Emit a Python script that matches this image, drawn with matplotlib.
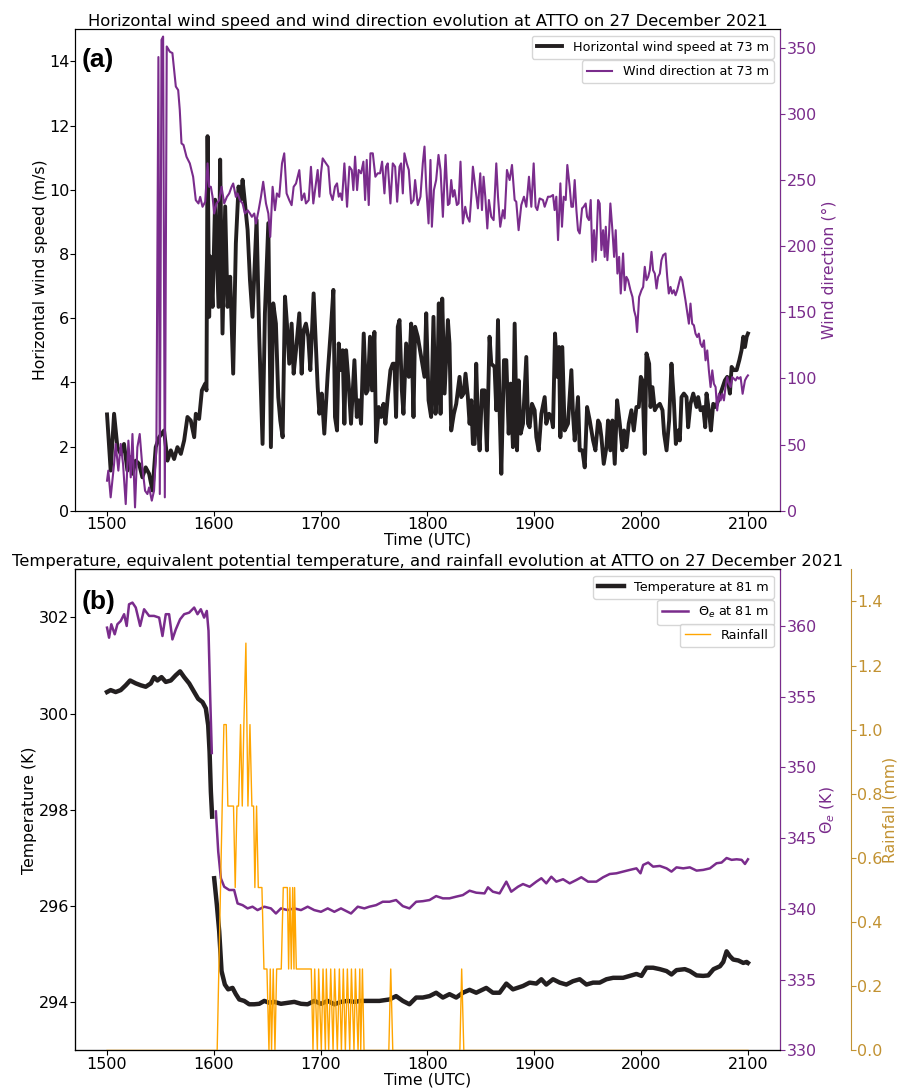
import numpy as np
import matplotlib
matplotlib.use("Agg")
import matplotlib.pyplot as plt

# ---------------- data (time in HHMM-like UTC units) ----------------
ws_time = [
    1500.0, 1503.4, 1506.6, 1509.7, 1512.8, 1515.9, 1519.1, 1522.2, 1523.8, 1526.9,
    1530.0, 1533.1, 1536.2, 1539.4, 1542.5, 1545.6, 1548.8, 1553.4, 1556.6, 1559.7,
    1562.8, 1565.9, 1569.1, 1572.2, 1575.3, 1578.4, 1581.6, 1583.1, 1586.2, 1588.8,
    1591.9, 1593.1, 1594.1, 1595.6, 1596.6, 1598.8, 1601.2, 1604.4, 1605.9, 1608.1,
    1610.6, 1612.8, 1615.3, 1618.1, 1620.6, 1623.1, 1625.3, 1626.9, 1629.1, 1631.6,
    1633.8, 1636.2, 1640.0, 1642.5, 1645.6, 1647.8, 1651.0, 1653.4, 1655.6, 1658.1,
    1660.3, 1662.2, 1664.4, 1666.6, 1668.4, 1670.6, 1672.8, 1674.7, 1676.9, 1680.0,
    1682.2, 1684.1, 1686.2, 1688.4, 1690.3, 1693.4, 1697.2, 1698.8, 1701.0, 1703.4,
    1706.6, 1709.7, 1711.9, 1713.4, 1715.3, 1716.9, 1719.1, 1720.6, 1722.2, 1723.8,
    1726.2, 1728.4, 1731.6, 1733.8, 1735.6, 1737.8, 1740.3, 1742.5, 1744.1, 1746.2,
    1748.1, 1750.3, 1751.9, 1754.4, 1756.6, 1758.8, 1760.6, 1762.8, 1765.3, 1767.5,
    1769.1, 1770.6, 1772.2, 1773.8, 1776.0, 1777.5, 1780.0, 1782.5, 1784.7, 1786.9,
    1788.4, 1790.9, 1794.1, 1797.2, 1798.8, 1801.0, 1803.4, 1805.6, 1807.5, 1809.1,
    1810.6, 1812.2, 1813.8, 1816.0, 1819.1, 1820.6, 1822.2, 1824.7, 1826.9, 1830.0,
    1831.6, 1833.8, 1835.6, 1837.8, 1839.4, 1841.0, 1842.5, 1844.1, 1845.6, 1847.2,
    1848.8, 1851.0, 1853.4, 1855.6, 1858.1, 1859.7, 1862.8, 1864.4, 1866.0, 1867.5,
    1869.1, 1871.6, 1873.8, 1876.0, 1877.8, 1880.0, 1881.6, 1883.8, 1885.3, 1887.2,
    1889.4, 1892.5, 1894.1, 1895.6, 1897.8, 1900.3, 1901.9, 1904.1, 1906.6, 1909.7,
    1911.2, 1913.8, 1915.9, 1917.5, 1919.4, 1921.5, 1923.1, 1924.4, 1926.2, 1928.4,
    1931.5, 1934.7, 1936.2, 1937.8, 1940.9, 1942.5, 1945.0, 1947.2, 1949.4, 1951.9,
    1955.0, 1957.2, 1959.7, 1961.2, 1962.8, 1965.0, 1967.5, 1969.0, 1971.2, 1973.1,
    1975.3, 1977.5, 1980.0, 1982.5, 1984.0, 1986.2, 1988.4, 1990.9, 1993.1, 1995.6,
    1997.8, 1999.7, 2001.2, 2003.4, 2005.0, 2007.5, 2008.8, 2010.6, 2012.8, 2014.4,
    2017.5, 2020.0, 2021.5, 2023.8, 2026.2, 2028.4, 2030.6, 2032.5, 2034.7, 2036.2,
    2037.8, 2040.0, 2042.5, 2044.0, 2046.2, 2048.8, 2051.9, 2053.4, 2055.6, 2058.1,
    2060.0, 2061.2, 2063.4, 2065.3, 2067.5, 2070.0, 2072.2, 2075.3, 2078.4, 2080.6,
    2083.1, 2084.7, 2086.9, 2089.4, 2091.9, 2094.0, 2095.6, 2097.2, 2098.8, 2100.0,
]
ws_value = [
    3.00, 1.25, 3.02, 1.98, 1.77, 2.08, 1.25, 1.67, 1.15, 1.56,
    1.46, 1.04, 1.35, 1.15, 0.63, 1.98, 2.29, 2.50, 1.56, 1.88,
    1.61, 1.98, 1.77, 2.19, 2.92, 2.81, 2.29, 3.02, 2.86, 3.75,
    3.96, 3.75, 11.67, 6.04, 7.92, 6.35, 9.69, 6.35, 10.94, 5.52,
    9.48, 6.35, 7.29, 4.27, 8.33, 10.10, 9.69, 10.31, 9.58, 8.75,
    7.19, 6.04, 9.06, 5.42, 2.08, 6.15, 8.96, 1.98, 6.46, 5.83,
    3.54, 2.81, 2.29, 6.67, 5.83, 4.58, 5.83, 4.27, 5.00, 6.15,
    4.27, 5.63, 5.83, 5.42, 4.38, 6.77, 3.85, 3.02, 3.65, 2.40,
    4.27, 5.73, 6.88, 2.92, 2.50, 5.21, 4.38, 5.00, 2.71, 5.00,
    3.96, 2.71, 4.69, 2.92, 3.44, 2.71, 5.52, 3.65, 3.75, 5.42,
    3.75, 5.57, 2.14, 3.23, 2.92, 3.33, 2.71, 3.54, 4.38, 4.58,
    4.58, 2.92, 5.73, 5.94, 3.75, 3.02, 5.21, 4.17, 5.83, 2.92,
    5.73, 5.42, 4.79, 4.17, 6.15, 3.44, 2.92, 6.04, 3.02, 3.75,
    6.46, 3.02, 6.61, 3.65, 5.94, 5.21, 2.50, 3.02, 3.33, 4.17,
    3.54, 3.65, 4.27, 3.54, 2.71, 3.44, 2.08, 2.08, 4.58, 2.71,
    1.88, 3.75, 3.75, 1.88, 5.42, 4.58, 4.48, 3.13, 5.94, 3.13,
    1.15, 4.69, 4.69, 2.40, 3.96, 1.98, 5.83, 1.88, 4.06, 2.40,
    2.71, 4.79, 2.71, 2.60, 3.33, 3.13, 2.29, 1.88, 3.02, 3.54,
    2.71, 3.02, 2.92, 2.60, 5.52, 4.17, 5.10, 2.29, 5.10, 2.50,
    2.71, 4.38, 3.02, 2.19, 3.54, 1.88, 1.88, 1.35, 3.23, 2.81,
    2.19, 1.88, 2.81, 2.71, 2.29, 1.46, 1.98, 2.81, 1.88, 2.81,
    1.46, 3.44, 2.71, 1.88, 2.50, 1.98, 2.71, 3.13, 2.50, 3.23,
    3.23, 4.17, 4.06, 1.77, 4.90, 4.58, 3.23, 3.85, 3.13, 3.23,
    3.33, 3.13, 2.40, 1.88, 2.81, 4.58, 3.44, 2.08, 2.50, 2.19,
    3.54, 3.65, 3.54, 2.60, 3.33, 3.65, 3.23, 3.54, 3.13, 3.23,
    2.60, 3.65, 3.13, 2.50, 3.33, 3.23, 3.44, 3.75, 4.06, 4.17,
    3.65, 4.48, 4.38, 4.38, 4.69, 5.00, 5.42, 5.10, 5.42, 5.52,
]

wd_time = [
    1500.0, 1501.2, 1503.4, 1506.6, 1508.1, 1510.6, 1512.8, 1515.0, 1517.5, 1520.0,
    1522.2, 1523.8, 1526.2, 1528.4, 1530.6, 1533.1, 1535.6, 1537.8, 1539.4, 1541.9,
    1544.0, 1546.2, 1548.1, 1549.4, 1551.0, 1552.5, 1554.1, 1555.9, 1558.8, 1561.2,
    1564.4, 1566.6, 1568.1, 1569.7, 1571.6, 1574.4, 1577.5, 1580.6, 1583.1, 1585.6,
    1587.2, 1589.4, 1591.9, 1594.1, 1595.6, 1597.2, 1598.8, 1600.3, 1602.5, 1605.0,
    1607.2, 1609.7, 1612.2, 1614.4, 1616.6, 1618.1, 1620.6, 1622.2, 1624.4, 1626.9,
    1629.1, 1631.6, 1633.8, 1635.6, 1637.8, 1639.4, 1641.9, 1644.1, 1646.2, 1648.8,
    1651.0, 1652.8, 1655.0, 1657.2, 1659.0, 1661.2, 1663.8, 1665.9, 1668.1, 1670.6,
    1672.8, 1674.7, 1676.9, 1680.0, 1682.2, 1684.7, 1686.2, 1688.8, 1690.9, 1693.1,
    1697.2, 1698.8, 1700.3, 1701.9, 1705.0, 1707.2, 1709.1, 1711.2, 1713.4, 1715.3,
    1716.9, 1718.4, 1720.0, 1722.2, 1724.7, 1726.9, 1729.1, 1730.6, 1732.2, 1734.1,
    1735.6, 1737.8, 1740.0, 1741.6, 1743.1, 1745.0, 1746.6, 1748.8, 1751.2, 1753.4,
    1755.6, 1757.5, 1759.7, 1761.2, 1762.8, 1765.3, 1767.5, 1769.7, 1771.6, 1773.8,
    1775.3, 1776.9, 1778.4, 1780.6, 1782.5, 1784.7, 1786.9, 1788.4, 1790.9, 1793.4,
    1795.6, 1797.2, 1798.8, 1801.0, 1802.8, 1804.1, 1806.0, 1808.1, 1810.3, 1812.2,
    1814.4, 1816.9, 1819.1, 1820.6, 1822.2, 1823.8, 1825.3, 1827.5, 1829.1, 1830.9,
    1833.1, 1835.3, 1837.2, 1839.4, 1841.0, 1842.5, 1844.7, 1847.2, 1849.4, 1851.0,
    1852.5, 1854.1, 1856.0, 1857.5, 1859.7, 1861.9, 1864.4, 1866.0, 1868.1, 1870.6,
    1872.2, 1874.4, 1876.9, 1879.1, 1881.6, 1883.1, 1885.3, 1887.8, 1890.3, 1892.5,
    1895.0, 1897.2, 1899.4, 1901.2, 1902.8, 1905.0, 1908.1, 1909.7, 1912.8, 1915.0,
    1917.5, 1919.0, 1920.6, 1922.2, 1924.4, 1925.9, 1927.5, 1929.4, 1930.9, 1933.1,
    1934.7, 1936.2, 1937.8, 1939.4, 1940.9, 1942.5, 1944.7, 1946.2, 1948.1, 1949.4,
    1951.2, 1952.8, 1954.4, 1955.9, 1957.5, 1959.7, 1961.2, 1962.8, 1964.4, 1965.9,
    1966.9, 1968.4, 1970.0, 1971.2, 1973.1, 1974.7, 1976.2, 1977.8, 1979.4, 1980.9,
    1983.1, 1984.7, 1986.2, 1987.8, 1990.0, 1991.9, 1993.4, 1995.0, 1996.2, 1998.1,
    2000.3, 2001.9, 2003.4, 2005.0, 2006.6, 2008.1, 2009.7, 2011.2, 2012.8, 2014.4,
    2015.9, 2017.5, 2019.0, 2020.6, 2022.8, 2024.4, 2025.9, 2027.5, 2029.0, 2030.6,
    2032.2, 2033.8, 2035.3, 2036.9, 2038.4, 2040.0, 2041.5, 2043.1, 2044.7, 2046.2,
    2047.8, 2049.4, 2050.9, 2052.5, 2054.0, 2055.6, 2057.2, 2058.8, 2060.3, 2061.9,
    2063.4, 2065.0, 2066.6, 2068.1, 2069.7, 2071.2, 2072.8, 2074.4, 2075.9, 2077.5,
    2079.0, 2080.6, 2082.2, 2083.8, 2085.3, 2086.9, 2088.4, 2090.0, 2091.5, 2093.1,
    2095.0, 2097.2, 2098.8, 2100.0,
]
wd_value = [
    22.7, 30.3, 10.1, 35.3, 50.5, 30.3, 50.5, 35.3, 5.0, 53.0,
    25.2, 58.0, 2.5, 48.0, 58.0, 32.8, 15.1, 12.6, 17.6, 7.6,
    15.1, 48.0, 343.0, 12.6, 356.0, 358.5, 10.1, 351.0, 347.0, 346.0,
    320.7, 318.0, 303.0, 277.7, 276.5, 267.6, 262.6, 252.5, 234.8, 232.3,
    237.3, 229.8, 233.5, 262.6, 244.9, 244.9, 237.3, 224.7, 232.3, 234.8,
    244.9, 232.3, 237.3, 239.9, 244.9, 247.4, 237.3, 239.9, 234.8, 232.3,
    224.7, 227.2, 224.7, 222.2, 224.7, 217.1, 227.2, 237.3, 248.7, 232.3,
    224.7, 207.0, 244.9, 227.2, 239.9, 237.3, 262.6, 270.2, 239.9, 234.8,
    231.0, 244.9, 247.4, 257.5, 234.8, 239.9, 232.3, 234.8, 260.0, 232.3,
    257.6, 237.4, 255.1, 266.4, 262.6, 260.1, 239.9, 234.9, 245.0, 247.5,
    237.4, 239.9, 234.9, 262.6, 229.8, 260.1, 257.6, 242.4, 267.7, 242.4,
    257.6, 255.1, 263.9, 234.9, 265.2, 231.1, 270.2, 270.2, 252.5, 255.1,
    255.1, 263.9, 239.9, 260.1, 262.6, 232.3, 262.6, 260.1, 233.6, 260.1,
    262.6, 239.9, 270.2, 262.6, 257.6, 232.3, 234.9, 250.0, 231.1, 237.4,
    262.6, 275.3, 245.0, 217.2, 265.2, 214.7, 242.4, 250.0, 269.0, 257.6,
    222.2, 269.0, 231.1, 232.3, 250.0, 237.4, 242.4, 231.1, 232.3, 263.9,
    217.2, 229.8, 222.2, 218.5, 237.4, 260.1, 245.0, 228.6, 255.1, 227.3,
    252.5, 237.4, 213.4, 234.9, 222.2, 219.7, 262.6, 237.4, 214.7, 227.3,
    221.0, 257.6, 250.0, 261.4, 234.9, 233.6, 212.1, 231.1, 237.4, 229.8,
    252.5, 229.8, 262.6, 229.8, 227.3, 236.1, 234.9, 229.8, 237.4, 237.4,
    238.7, 227.3, 237.4, 204.6, 247.5, 214.7, 237.4, 234.9, 261.4, 245.0,
    229.8, 229.8, 250.0, 227.3, 212.1, 209.6, 228.6, 229.8, 232.3, 222.2,
    219.7, 234.9, 188.2, 212.1, 189.4, 234.9, 232.3, 197.0, 212.1, 191.9,
    214.7, 189.4, 209.6, 232.3, 212.1, 191.9, 212.1, 179.3, 191.9, 164.2,
    194.5, 166.7, 176.8, 174.3, 166.7, 161.6, 151.5, 146.5, 135.1, 161.6,
    166.7, 169.2, 184.4, 174.3, 176.8, 181.8, 195.7, 181.8, 179.3, 168.0,
    176.8, 179.3, 189.4, 193.2, 194.5, 176.8, 164.2, 169.2, 164.2, 166.7,
    162.9, 166.7, 171.7, 176.8, 174.3, 166.7, 159.1, 150.3, 141.4, 156.6,
    141.4, 140.2, 133.9, 131.3, 133.9, 126.3, 123.8, 128.8, 113.7, 121.2,
    106.1, 93.5, 106.1, 96.0, 93.5, 75.8, 88.4, 83.4, 88.4, 83.4,
    93.5, 101.0, 96.0, 93.5, 101.0, 99.8, 98.5, 101.0, 99.8, 101.0,
    88.4, 98.5, 101.0, 102.3,
]

t_time = [
    1500.0, 1503.4, 1508.1, 1512.8, 1517.5, 1521.6, 1526.9, 1531.6, 1536.2, 1541.0,
    1544.0, 1547.2, 1551.0, 1555.0, 1559.7, 1564.4, 1568.4, 1572.2, 1576.9, 1581.6,
    1585.3, 1589.4, 1592.5, 1594.7, 1596.0, 1597.2, 1598.4, 1599.3, 1600.3, 1602.8,
    1605.0, 1607.2, 1610.3, 1613.4, 1617.5, 1620.6, 1623.8, 1628.4, 1633.1, 1637.8,
    1642.5, 1647.2, 1651.9, 1656.6, 1662.8, 1669.0, 1675.3, 1681.6, 1687.8, 1694.0,
    1700.3, 1706.6, 1712.8, 1719.0, 1725.3, 1731.6, 1737.8, 1745.6, 1755.0, 1764.4,
    1770.6, 1776.9, 1783.1, 1789.4, 1795.6, 1801.9, 1808.1, 1814.4, 1820.6, 1826.9,
    1833.1, 1839.4, 1845.6, 1855.0, 1861.2, 1867.5, 1873.8, 1880.0, 1889.4, 1895.6,
    1901.9, 1906.6, 1911.2, 1917.5, 1923.8, 1930.0, 1936.2, 1942.5, 1948.8, 1955.0,
    1961.2, 1967.5, 1973.8, 1983.1, 1989.4, 1995.6, 2000.3, 2005.0, 2011.2, 2017.5,
    2023.8, 2028.4, 2033.1, 2040.9, 2045.6, 2051.9, 2058.1, 2062.8, 2067.8, 2073.8,
    2076.9, 2080.0, 2083.1, 2086.2, 2091.0, 2095.6, 2098.8, 2100.0,
]
t_value = [
    300.45, 300.49, 300.45, 300.49, 300.59, 300.69, 300.63, 300.59, 300.56, 300.63,
    300.76, 300.69, 300.76, 300.66, 300.69, 300.80, 300.88, 300.76, 300.63, 300.45,
    300.31, 300.24, 300.11, 299.76, 299.21, 298.38, 297.86, np.nan, 296.58, 296.03,
    295.48, 294.65, 294.37, 294.27, 294.30, 294.17, 294.06, 294.03, 293.96, 293.96,
    293.97, 294.03, 293.99, 294.01, 293.97, 293.99, 294.01, 293.97, 293.96, 294.03,
    293.97, 294.03, 293.96, 294.01, 294.03, 294.01, 294.03, 294.03, 294.03, 294.06,
    294.13, 294.03, 293.96, 294.10, 294.10, 294.13, 294.20, 294.10, 294.17, 294.10,
    294.20, 294.26, 294.20, 294.30, 294.20, 294.20, 294.39, 294.27, 294.34, 294.41,
    294.39, 294.48, 294.37, 294.48, 294.41, 294.37, 294.44, 294.48, 294.37, 294.41,
    294.41, 294.48, 294.51, 294.51, 294.55, 294.59, 294.55, 294.72, 294.72, 294.69,
    294.65, 294.58, 294.67, 294.69, 294.65, 294.56, 294.55, 294.56, 294.69, 294.75,
    294.84, 295.06, 294.96, 294.89, 294.87, 294.82, 294.84, 294.82,
]

theta_time = [
    1500.0, 1501.9, 1504.0, 1507.2, 1509.7, 1512.8, 1516.0, 1518.4, 1520.6, 1523.8,
    1526.9, 1531.0, 1534.7, 1539.4, 1544.0, 1548.8, 1551.9, 1555.0, 1558.1, 1561.2,
    1564.4, 1568.4, 1572.2, 1576.9, 1581.6, 1584.7, 1587.8, 1590.9, 1593.4, 1595.0,
    1596.6, 1598.1, 1600.0, 1601.9, 1604.1, 1606.6, 1609.7, 1614.4, 1619.0, 1622.2,
    1626.9, 1631.6, 1636.2, 1640.9, 1647.2, 1653.4, 1658.1, 1662.8, 1669.0, 1675.3,
    1681.6, 1687.8, 1694.0, 1700.3, 1706.6, 1712.8, 1719.0, 1728.4, 1734.7, 1740.9,
    1745.6, 1751.9, 1758.1, 1764.4, 1770.6, 1776.9, 1783.1, 1789.4, 1795.6, 1801.9,
    1808.1, 1814.4, 1820.6, 1826.9, 1833.1, 1839.4, 1845.6, 1853.4, 1856.6, 1861.2,
    1867.5, 1873.8, 1878.4, 1884.7, 1889.4, 1895.6, 1901.9, 1906.6, 1911.2, 1915.9,
    1920.6, 1926.9, 1933.1, 1939.4, 1944.0, 1950.3, 1958.1, 1964.4, 1970.6, 1976.9,
    1983.1, 1989.4, 1995.6, 1999.4, 2001.9, 2006.6, 2011.2, 2017.5, 2023.8, 2028.4,
    2033.1, 2039.4, 2045.6, 2051.9, 2058.1, 2064.4, 2070.6, 2075.3, 2080.0, 2084.7,
    2089.4, 2094.1, 2097.2, 2100.0,
]
theta_value = [
    359.88, 359.17, 360.12, 359.41, 360.12, 360.35, 360.83, 360.00, 361.53, 361.65,
    361.30, 360.00, 361.18, 360.71, 360.71, 360.59, 359.29, 360.83, 360.83, 359.05,
    359.76, 360.47, 360.83, 360.94, 361.30, 360.83, 361.18, 360.59, 361.06, 359.65,
    354.92, 351.02, np.nan, 346.89, 344.05, 342.16, 341.57, 341.34, 341.34, 340.39,
    340.27, 340.04, 340.16, 339.92, 340.16, 340.04, 339.68, 340.04, 339.92, 340.04,
    339.92, 340.16, 339.92, 339.80, 340.04, 339.80, 340.04, 339.68, 340.16, 340.04,
    340.16, 340.27, 340.51, 340.51, 340.63, 340.20, 340.04, 340.51, 340.55, 340.63,
    340.91, 340.75, 340.75, 340.87, 340.98, 341.29, 341.15, 341.10, 341.53, 341.22,
    341.10, 341.93, 341.22, 341.57, 341.76, 341.57, 341.93, 342.17, 341.81, 342.28,
    341.93, 342.10, 341.81, 342.05, 342.24, 341.93, 341.93, 342.24, 342.47, 342.52,
    342.64, 342.76, 342.87, 342.52, 343.11, 343.28, 342.99, 343.04, 342.87, 342.64,
    342.94, 342.87, 342.94, 342.71, 342.76, 342.87, 343.23, 343.28, 343.60, 343.47,
    343.51, 343.47, 343.18, 343.51,
]

rain_time = [
    1500.0, 1603.1, 1609.4, 1611.6, 1613.1, 1618.4, 1620.0, 1621.6, 1623.1, 1625.0,
    1626.6, 1628.1, 1630.0, 1631.9, 1633.8, 1635.6, 1637.2, 1638.4, 1640.0, 1641.6,
    1645.0, 1646.9, 1649.7, 1651.6, 1652.8, 1654.0, 1655.6, 1657.2, 1658.8, 1663.1,
    1665.0, 1668.8, 1670.0, 1671.2, 1672.5, 1673.8, 1675.0, 1675.6, 1677.2, 1691.2,
    1692.8, 1694.4, 1696.9, 1698.1, 1700.6, 1702.2, 1704.4, 1705.3, 1707.5, 1709.4,
    1711.6, 1713.1, 1715.6, 1717.5, 1719.4, 1721.2, 1723.1, 1725.0, 1727.2, 1728.8,
    1731.2, 1732.5, 1735.0, 1736.6, 1737.5, 1739.1, 1740.6, 1763.8, 1765.6, 1767.5,
    1830.3, 1832.0, 1834.0, 2100.0,
]
rain_value = [
    0.0, 0.0, 1.016, 1.016, 0.762, 0.762, 0.508, 0.762, 0.762, 1.016,
    0.762, 1.016, 1.27, 0.762, 1.016, 0.762, 0.762, 0.508, 0.762, 0.508,
    0.508, 0.254, 0.254, 0.0, 0.254, 0.0, 0.254, 0.0, 0.254, 0.254,
    0.508, 0.508, 0.254, 0.508, 0.254, 0.508, 0.254, 0.508, 0.254, 0.254,
    0.0, 0.254, 0.0, 0.254, 0.0, 0.254, 0.0, 0.254, 0.0, 0.254,
    0.0, 0.254, 0.0, 0.254, 0.0, 0.254, 0.0, 0.254, 0.0, 0.254,
    0.0, 0.254, 0.0, 0.254, 0.0, 0.254, 0.0, 0.0, 0.254, 0.0,
    0.0, 0.254, 0.0, 0.0,
]

# ---------------- styling ----------------
plt.rcParams['font.family'] = ['DejaVu Sans']
BLACK = '#231F20'
PURPLE = '#7A2C8C'
ORANGE = '#FFA500'
GOLD = '#C29232'
TICK = 11.5
LAB = 11.3
TITLE = 11.8
LEG = 9.2

fig = plt.figure(figsize=(8.98, 10.88), dpi=100)

# ---------------- panel (a) ----------------
ax1 = fig.add_axes([0.0835, 0.5306, 0.7851, 0.4425])
ax1r = ax1.twinx()
ax1.plot(ws_time, ws_value, color=BLACK, lw=2.8, label='Horizontal wind speed at 73 m')
ax1r.plot(wd_time, wd_value, color=PURPLE, lw=1.5, label='Wind direction at 73 m')
ax1.set_xlim(1470, 2130)
ax1.set_ylim(0, 15)
ax1r.set_ylim(0, 364)
ax1.set_xticks([1500, 1600, 1700, 1800, 1900, 2000, 2100])
ax1.set_xlabel('Time (UTC)', fontsize=LAB, labelpad=0.5)
ax1.set_ylabel('Horizontal wind speed (m/s)', fontsize=LAB, labelpad=1)
ax1r.set_ylabel('Wind direction (°)', fontsize=LAB, color=PURPLE, labelpad=3)
ax1.tick_params(axis='x', labelsize=TICK, pad=1.2)
ax1.tick_params(axis='y', labelsize=TICK, pad=0.6)
ax1r.tick_params(axis='y', labelsize=TICK, colors=PURPLE, pad=1.2)
ax1r.spines['right'].set_color(PURPLE)
ax1.set_title('Horizontal wind speed and wind direction evolution at ATTO on 27 December 2021',
              fontsize=TITLE, pad=1)
ax1.text(0.0095, 0.962, '(a)', transform=ax1.transAxes, ha='left', va='top',
         fontsize=19, fontweight='bold', family=['Liberation Sans', 'DejaVu Sans'])
ax1.legend(loc='upper right', fontsize=LEG)
ax1r.legend(loc='upper right', bbox_to_anchor=(1.0, 1.0 - 0.051), fontsize=LEG)

# ---------------- panel (b) ----------------
ax2 = fig.add_axes([0.0835, 0.0345, 0.7851, 0.4422])
ax2r = ax2.twinx()
ax2rr = ax2.twinx()
ax2rr.spines['right'].set_position(('axes', 1.1))
ax2.plot(t_time, t_value, color=BLACK, lw=3.2, label='Temperature at 81 m')
ax2r.plot(theta_time, theta_value, color=PURPLE, lw=1.8, label=r'$\Theta_e$ at 81 m')
ax2rr.plot(rain_time, rain_value, color=ORANGE, lw=1.0, label='Rainfall')
ax2.set_xlim(1470, 2130)
ax2.set_ylim(293, 303)
ax2r.set_ylim(330, 364)
ax2rr.set_ylim(0, 1.5)
ax2.set_xticks([1500, 1600, 1700, 1800, 1900, 2000, 2100])
ax2.set_xlabel('Time (UTC)', fontsize=LAB, labelpad=0.5)
ax2.set_ylabel('Temperature (K)', fontsize=LAB, labelpad=1)
ax2r.set_ylabel(r'$\Theta_e$ (K)', fontsize=LAB, color=PURPLE, labelpad=1)
ax2rr.set_ylabel('Rainfall (mm)', fontsize=LAB, color=GOLD, labelpad=0)
ax2.tick_params(axis='x', labelsize=TICK, pad=1.2)
ax2.tick_params(axis='y', labelsize=TICK, pad=0.6)
ax2r.tick_params(axis='y', labelsize=TICK, colors=PURPLE, pad=1.2)
ax2rr.tick_params(axis='y', labelsize=TICK, colors=GOLD, pad=1.0)
ax2r.spines['right'].set_color(PURPLE)
ax2rr.spines['right'].set_color(GOLD)
ax2.set_title('Temperature, equivalent potential temperature, and rainfall evolution at ATTO on 27 December 2021',
              fontsize=TITLE, pad=0)
ax2.text(0.0095, 0.958, '(b)', transform=ax2.transAxes, ha='left', va='top',
         fontsize=19, fontweight='bold', family=['Liberation Sans', 'DejaVu Sans'])
ax2.legend(loc='upper right', fontsize=LEG)
ax2r.legend(loc='upper right', bbox_to_anchor=(1.0, 1.0 - 0.05), fontsize=LEG)
ax2rr.legend(loc='upper right', bbox_to_anchor=(1.0, 1.0 - 0.10), fontsize=LEG)

fig.savefig('out.png', dpi=100)
